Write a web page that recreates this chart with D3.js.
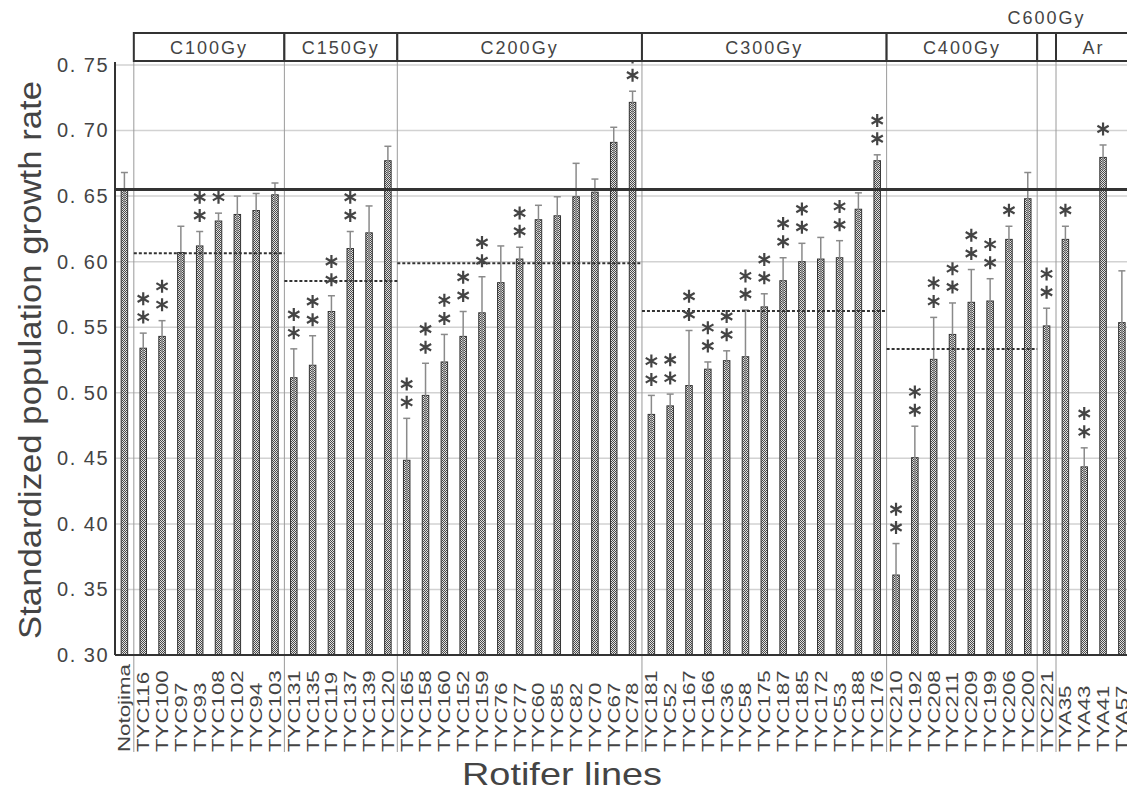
<!DOCTYPE html>
<html>
<head>
<meta charset="utf-8">
<script src="https://cdn.jsdelivr.net/npm/d3@7"></script>
<style>
  body { margin: 0; background: #fff; }
  svg { display: block; }
  text { font-family: 'Liberation Sans', Arial, sans-serif; fill: #444; }
</style>
</head>
<body>
<svg id="chart"></svg>
<script>
// rotifer lines, in plotting order (Notojima = control)
const lines = [
  'Notojima',
  'TYC116', 'TYC100', 'TYC97', 'TYC93', 'TYC108', 'TYC102', 'TYC94', 'TYC103',
  'TYC131', 'TYC135', 'TYC119', 'TYC137', 'TYC139', 'TYC120',
  'TYC165', 'TYC158', 'TYC160', 'TYC152', 'TYC159', 'TYC76', 'TYC77', 'TYC60', 'TYC85', 'TYC82', 'TYC70', 'TYC67', 'TYC78',
  'TYC181', 'TYC52', 'TYC167', 'TYC166', 'TYC36', 'TYC58', 'TYC175', 'TYC187', 'TYC185', 'TYC172', 'TYC53', 'TYC188', 'TYC176',
  'TYC210', 'TYC192', 'TYC208', 'TYC211', 'TYC209', 'TYC199', 'TYC206', 'TYC200',
  'TYC221',
  'TYA35', 'TYA43', 'TYA41', 'TYA57'
];

const groupNames = ['C100Gy', 'C150Gy', 'C200Gy', 'C300Gy', 'C400Gy', 'C600Gy', 'Ar'];
const groupSizes = [8, 6, 13, 13, 8, 1, 4];
// dashed group mean lines (none for C600Gy and Ar)
const groupMeans = [0.6064, 0.5853, 0.5988, 0.5624, 0.5334, null, null];
const controlMean = 0.655;

const means = [
  0.655,
  0.534, 0.543, 0.607, 0.612, 0.631, 0.636, 0.639, 0.651,
  0.5115, 0.521, 0.562, 0.610, 0.622, 0.677,
  0.4485, 0.498, 0.5235, 0.543, 0.561, 0.584, 0.602, 0.632, 0.635, 0.6495, 0.653, 0.691, 0.7215,
  0.4835, 0.490, 0.5055, 0.518, 0.5245, 0.5275, 0.5655, 0.5855, 0.600, 0.602, 0.603, 0.640, 0.677,
  0.361, 0.4505, 0.5255, 0.5445, 0.569, 0.570, 0.617, 0.648,
  0.551,
  0.617, 0.4435, 0.6795, 0.5535
];

const sds = [
  0.013,
  0.0115, 0.012, 0.020, 0.011, 0.006, 0.014, 0.013, 0.009,
  0.022, 0.0225, 0.012, 0.013, 0.0205, 0.011,
  0.032, 0.0245, 0.021, 0.019, 0.0275, 0.028, 0.009, 0.011, 0.0145, 0.0255, 0.010, 0.0115, 0.0085,
  0.0145, 0.009, 0.042, 0.0055, 0.0075, 0.0355, 0.010, 0.0175, 0.014, 0.0165, 0.013, 0.0125, 0.0045,
  0.024, 0.024, 0.032, 0.024, 0.025, 0.017, 0.010, 0.020,
  0.0135,
  0.010, 0.0145, 0.0095, 0.0395
];

// number of significance asterisks above each bar
const stars = [
  0,
  2, 2, 0, 2, 1, 0, 0, 0,
  2, 2, 2, 2, 0, 0,
  2, 2, 2, 2, 2, 0, 2, 0, 0, 0, 0, 0, 2,
  2, 2, 2, 2, 2, 2, 2, 2, 2, 0, 2, 0, 2,
  2, 2, 2, 2, 2, 2, 1, 0,
  2,
  1, 2, 1, 0
];

const yTicks = [0.30, 0.35, 0.40, 0.45, 0.50, 0.55, 0.60, 0.65, 0.70, 0.75];

const width = 1127, height = 796;
const margin = { top: 65, left: 115 };
const plotBottom = 655;
const step = 18.82;
const barW = 6.5;
const boxTop = 33, boxBottom = 61;
const labelBase = 752;

const svg = d3.select('#chart')
  .attr('width', width)
  .attr('height', height);

const x = d3.scaleBand()
  .domain(lines)
  .range([margin.left, margin.left + step * lines.length])
  .padding(0);

const y = d3.scaleLinear()
  .domain([0.30, 0.75])
  .range([plotBottom, margin.top]);

const cx = d => x(d) + x.bandwidth() / 2;

// fill pattern of the bars
const defs = svg.append('defs');
const pat = defs.append('pattern')
  .attr('id', 'dots')
  .attr('patternUnits', 'userSpaceOnUse')
  .attr('width', 2)
  .attr('height', 2);
pat.append('rect').attr('width', 2).attr('height', 2).attr('fill', '#e2e2e2');
pat.append('rect').attr('width', 1).attr('height', 1).attr('fill', '#4a4a4a');
pat.append('rect').attr('x', 1).attr('y', 1).attr('width', 1).attr('height', 1).attr('fill', '#4a4a4a');

// gridlines
svg.append('g')
  .selectAll('line')
  .data(yTicks.slice(1))
  .enter()
  .append('line')
    .attr('x1', margin.left)
    .attr('x2', width)
    .attr('y1', d => y(d))
    .attr('y2', d => y(d))
    .attr('stroke', '#d2d2d2')
    .attr('stroke-width', 1.5);

// groups: start/end positions
let idx = 1;
const groups = groupNames.map((name, i) => {
  const first = lines[idx];
  const last = lines[idx + groupSizes[i] - 1];
  idx += groupSizes[i];
  return { name, x0: x(first), x1: x(last) + x.bandwidth(), mean: groupMeans[i] };
});

// vertical separators
svg.append('g')
  .selectAll('line')
  .data(groups)
  .enter()
  .append('line')
    .attr('x1', d => d.x0)
    .attr('x2', d => d.x0)
    .attr('y1', boxBottom)
    .attr('y2', labelBase)
    .attr('stroke', '#9a9a9a')
    .attr('stroke-width', 1);

// bars
svg.append('g')
  .selectAll('rect')
  .data(lines)
  .enter()
  .append('rect')
    .attr('x', d => cx(d) - barW / 2)
    .attr('y', (d, i) => y(means[i]))
    .attr('width', barW)
    .attr('height', (d, i) => plotBottom - y(means[i]))
    .attr('fill', 'url(#dots)')
    .attr('stroke', '#333')
    .attr('stroke-width', 1);

// error bars
const err = svg.append('g').attr('stroke', '#8a8a8a').attr('stroke-width', 1.5);
lines.forEach((d, i) => {
  const c = cx(d);
  err.append('line')
    .attr('x1', c).attr('x2', c)
    .attr('y1', y(means[i] - sds[i])).attr('y2', y(means[i] + sds[i]));
  err.append('line')
    .attr('x1', c - 3.5).attr('x2', c + 3.5)
    .attr('y1', y(means[i] + sds[i])).attr('y2', y(means[i] + sds[i]));
});

// control line
svg.append('line')
  .attr('x1', margin.left)
  .attr('x2', width)
  .attr('y1', y(controlMean))
  .attr('y2', y(controlMean))
  .attr('stroke', '#333')
  .attr('stroke-width', 3);

// group mean dashed lines
svg.append('g')
  .selectAll('line')
  .data(groups.filter(g => g.mean !== null))
  .enter()
  .append('line')
    .attr('x1', d => d.x0)
    .attr('x2', d => d.x1)
    .attr('y1', d => y(d.mean))
    .attr('y2', d => y(d.mean))
    .attr('stroke', '#333')
    .attr('stroke-width', 2)
    .attr('stroke-dasharray', '3,2');

// asterisks
const starPath = r => {
  const t = r / 2, u = t * Math.sqrt(3);
  return `M0,${-r}L0,${r}M${-u},${-t}L${u},${t}M${-u},${t}L${u},${-t}`;
};
const starG = svg.append('g')
  .attr('stroke', '#444')
  .attr('stroke-width', 2.2)
  .attr('fill', 'none');
lines.forEach((d, i) => {
  for (let k = 0; k < stars[i]; k++) {
    starG.append('path')
      .attr('d', starPath(6.5))
      .attr('transform', `translate(${cx(d)},${y(means[i] + sds[i]) - 16 - k * 18.3})`);
  }
});

// axes
svg.append('line')
  .attr('x1', margin.left).attr('x2', margin.left)
  .attr('y1', boxBottom + 1).attr('y2', plotBottom)
  .attr('stroke', '#333').attr('stroke-width', 2);
svg.append('line')
  .attr('x1', margin.left).attr('x2', width)
  .attr('y1', plotBottom).attr('y2', plotBottom)
  .attr('stroke', '#333').attr('stroke-width', 2);

const yAxis = svg.append('g')
  .attr('transform', `translate(${margin.left},0)`)
  .call(d3.axisLeft(y).tickValues(yTicks).tickSize(0).tickPadding(6)
    .tickFormat(d => d3.format('.2f')(d).replace('.', '. ')));
yAxis.select('.domain').remove();
yAxis.selectAll('text')
  .style('font-size', '20px')
  .style('letter-spacing', '1.5px')
  .attr('fill', '#444')
  .style('font-family', "'Liberation Sans', Arial, sans-serif");

// x tick labels (wide lettering, read bottom to top)
svg.append('g')
  .selectAll('text')
  .data(lines)
  .enter()
  .append('text')
    .attr('transform', d => `translate(${cx(d)},${labelBase}) rotate(-90) scale(1.35,1)`)
    .attr('dy', '0.36em')
    .attr('text-anchor', 'start')
    .style('font-size', '16.5px')
    .text(d => d);

// group header boxes
const head = svg.append('g');
head.selectAll('rect')
  .data(groups)
  .enter()
  .append('rect')
    .attr('x', d => d.x0)
    .attr('y', boxTop)
    .attr('width', d => Math.min(d.x1, width + 5) - d.x0)
    .attr('height', boxBottom - boxTop)
    .attr('fill', '#fff')
    .attr('stroke', '#333')
    .attr('stroke-width', 2);
head.selectAll('text')
  .data(groups)
  .enter()
  .append('text')
    .attr('x', d => d.name === 'Ar' ? (d.x0 + width) / 2 + 2 : (d.x0 + d.x1) / 2)
    .attr('y', d => (d.x1 - d.x0) < 40 ? 24 : 54)
    .attr('text-anchor', 'middle')
    .style('font-size', '18px')
    .style('letter-spacing', '2px')
    .text(d => d.name);

// axis titles
svg.append('text')
  .attr('transform', `translate(41,${(margin.top + plotBottom) / 2}) rotate(-90)`)
  .attr('text-anchor', 'middle')
  .attr('textLength', 558)
  .attr('lengthAdjust', 'spacingAndGlyphs')
  .style('font-size', '31px')
  .text('Standardized population growth rate');

svg.append('text')
  .attr('x', 562)
  .attr('y', 785)
  .attr('text-anchor', 'middle')
  .attr('textLength', 200)
  .attr('lengthAdjust', 'spacingAndGlyphs')
  .style('font-size', '32px')
  .text('Rotifer lines');
</script>
</body>
</html>
